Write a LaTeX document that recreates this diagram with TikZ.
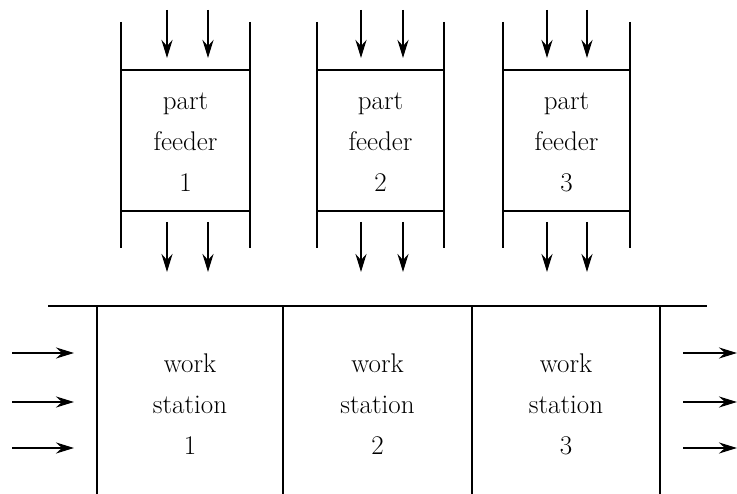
\documentclass[tikz,border=0pt]{standalone}
\usetikzlibrary{arrows.meta}
\begin{document}
\begin{tikzpicture}[x=1pt,y=-1pt,
  wall/.style={line width=2.9pt},
  flow/.style={-{Stealth[length=18pt,width=11pt,inset=6pt]}, line width=2.5pt},
  lbl/.style={align=center,font=\fontsize{27}{41}\selectfont,inner sep=0pt}]
\useasboundingbox (0,0) rectangle (737,494);
% part feeders
\foreach \i/\l/\r/\a/\b in {1/121/250/167/208, 2/317/444/361/403, 3/503/630/547/587}{
  \node[lbl] (f\i) at ({(\l+\r)/2},142) {part\\feeder\\\i};
  \draw[wall] (\l,22) -- (\l,248);
  \draw[wall] (\r,22) -- (\r,248);
  \draw[wall] (\l,70) -- (\r,70);
  \draw[wall] (\l,211) -- (\r,211);
  \coordinate (ia\i) at (\a,10); \coordinate (ja\i) at (\a,58);
  \coordinate (ib\i) at (\b,10); \coordinate (jb\i) at (\b,58);
  \coordinate (oa\i) at (\a,222); \coordinate (pa\i) at (\a,272);
  \coordinate (ob\i) at (\b,222); \coordinate (pb\i) at (\b,272);
  \draw[flow] (ia\i) -- (ja\i);
  \draw[flow] (ib\i) -- (jb\i);
  \draw[flow] (oa\i) -- (pa\i);
  \draw[flow] (ob\i) -- (pb\i);
}
% work stations
\draw[wall] (48,306) -- (707,306);
\foreach \x in {97,283,472,660}{
  \draw[wall] (\x,306) -- (\x,494);
}
\foreach \i/\c in {1/190,2/377.5,3/566}{
  \node[lbl] (w\i) at (\c,404) {work\\station\\\i};
}
\foreach \y [count=\k] in {353,402,448}{
  \coordinate (li\k) at (12,\y); \coordinate (lo\k) at (74,\y);
  \coordinate (ri\k) at (683,\y); \coordinate (ro\k) at (737,\y);
  \draw[flow] (li\k) -- (lo\k);
  \draw[flow] (ri\k) -- (ro\k);
}
\end{tikzpicture}
\end{document}
